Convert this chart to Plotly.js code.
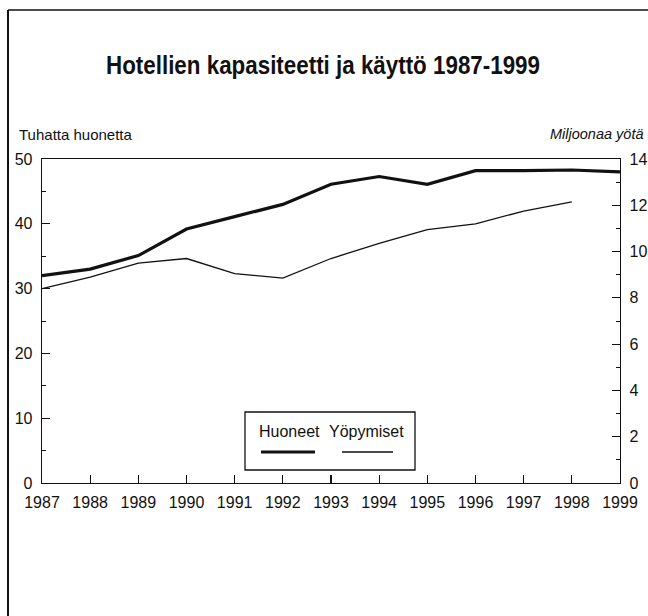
<!DOCTYPE html>
<html>
<head>
<meta charset="utf-8">
<script src="https://cdn.plot.ly/plotly-3.0.1.min.js"></script>
<style>
html,body{margin:0;padding:0;background:#fff;}
#chart{width:648px;height:616px;}
</style>
</head>
<body>
<div id="chart"></div>
<script>
// Data
const years = [1987, 1988, 1989, 1990, 1991, 1992, 1993, 1994, 1995, 1996, 1997, 1998, 1999];
const huoneet = [32.0, 33.0, 35.1, 39.2, 41.1, 43.0, 46.1, 47.3, 46.1, 48.2, 48.2, 48.3, 48.0]; // tuhatta huonetta
const yopymisetYears = [1987, 1988, 1989, 1990, 1991, 1992, 1993, 1994, 1995, 1996, 1997, 1998];
const yopymiset = [8.4, 8.9, 9.5, 9.7, 9.05, 8.85, 9.7, 10.35, 10.95, 11.2, 11.75, 12.15]; // miljoonaa yötä
const seriesNames = ["Huoneet", "Yöpymiset"];
const titleText = "Hotellien kapasiteetti ja käyttö 1987-1999";
const leftAxisLabel = "Tuhatta huonetta";
const rightAxisLabel = "Miljoonaa yötä";

const ink = "#111";
const W = 648, H = 616;
const mL = 42, mR = 28, mT = 159, mB = 133;
const pw = W - mL - mR, ph = H - mT - mB;
const px = x => (x - mL) / pw;
const py = y => (H - mB - y) / ph;

const traces = [
  {x: years, y: huoneet, name: seriesNames[0], type: "scatter", mode: "lines",
   line: {color: ink, width: 3.2}, yaxis: "y", showlegend: false},
  {x: yopymisetYears, y: yopymiset, name: seriesNames[1], type: "scatter", mode: "lines",
   line: {color: ink, width: 1.3}, yaxis: "y2", showlegend: false}
];

const fontFam = "Liberation Sans, Arial, sans-serif";
const axisCommon = {
  showgrid: false, zeroline: false, showline: true, linecolor: ink, linewidth: 1.3,
  ticks: "inside", tickcolor: ink, tickwidth: 1.2, ticklen: 8,
  tickfont: {family: fontFam, size: 16, color: ink}
};

const layout = {
  width: W, height: H,
  margin: {l: mL, r: mR, t: mT, b: mB, pad: 0},
  paper_bgcolor: "#fff", plot_bgcolor: "#fff",
  showlegend: false,
  title: {text: "<b>" + titleText + "</b>", x: px(323), xanchor: "center", xref: "paper",
          y: 1 - 65 / H, yanchor: "middle",
          font: {family: fontFam, size: 25, color: ink}},
  xaxis: Object.assign({}, axisCommon, {
    range: [1987, 1999], dtick: 1, tick0: 1987, mirror: true, ticklabelstandoff: 4
  }),
  yaxis: Object.assign({}, axisCommon, {
    range: [0, 50], dtick: 10, tick0: 0, ticklabelstandoff: 5,
    minor: {dtick: 5, ticks: "inside", ticklen: 4, tickcolor: ink, tickwidth: 1}
  }),
  yaxis2: Object.assign({}, axisCommon, {
    range: [0, 14], dtick: 2, tick0: 0, overlaying: "y", side: "right", ticklabelstandoff: 5,
    minor: {dtick: 1, ticks: "inside", ticklen: 4, tickcolor: ink, tickwidth: 1}
  }),
  annotations: [
    {text: leftAxisLabel, xref: "paper", yref: "paper", x: px(17), y: py(134), xanchor: "left", yanchor: "middle",
     showarrow: false, font: {family: fontFam, size: 15, color: ink}},
    {text: "<i>" + rightAxisLabel + "</i>", xref: "paper", yref: "paper", x: px(646), y: py(134), xanchor: "right", yanchor: "middle",
     showarrow: false, font: {family: fontFam, size: 14.5, color: ink}},
    {text: seriesNames[0], xref: "paper", yref: "paper", x: px(289), y: py(431), xanchor: "center", yanchor: "middle",
     showarrow: false, font: {family: fontFam, size: 16, color: ink}},
    {text: seriesNames[1], xref: "paper", yref: "paper", x: px(366), y: py(431), xanchor: "center", yanchor: "middle",
     showarrow: false, font: {family: fontFam, size: 16, color: ink}}
  ],
  shapes: [
    // outer frame
    {type: "line", xref: "paper", yref: "paper", x0: px(8), x1: px(8), y0: py(10), y1: py(616), line: {color: ink, width: 2}},
    {type: "line", xref: "paper", yref: "paper", x0: px(8), x1: px(648), y0: py(10), y1: py(10), line: {color: ink, width: 1.5}},
    // legend box
    {type: "rect", xref: "paper", yref: "paper", x0: px(245), x1: px(415), y0: py(412), y1: py(470),
     line: {color: ink, width: 1.3}, fillcolor: "#fff", layer: "above"},
    {type: "line", xref: "paper", yref: "paper", x0: px(261), x1: px(315), y0: py(452), y1: py(452), line: {color: ink, width: 3.2}},
    {type: "line", xref: "paper", yref: "paper", x0: px(342), x1: px(393), y0: py(452), y1: py(452), line: {color: ink, width: 1.3}}
  ]
};

Plotly.newPlot("chart", traces, layout, {displayModeBar: false, staticPlot: true}).then(function (gd) {
  // condensed look for the title, like the original narrow bold face
  const t = gd.querySelector(".gtitle");
  if (t) {
    t.setAttribute("textLength", "434");
    t.setAttribute("lengthAdjust", "spacingAndGlyphs");
  }
});
</script>
</body>
</html>
